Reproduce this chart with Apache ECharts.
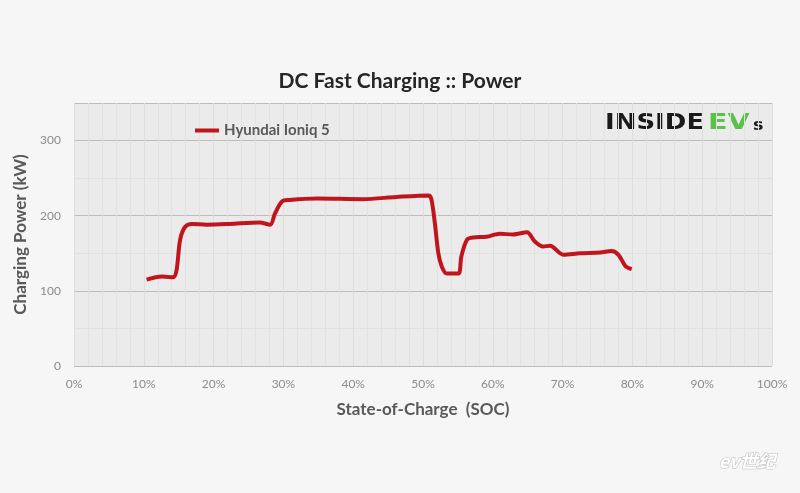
<!DOCTYPE html>
<html>
<head>
<meta charset="utf-8">
<script src="https://cdn.jsdelivr.net/npm/echarts@6/dist/echarts.min.js"></script>
<style>
html,body{margin:0;padding:0;background:#f6f6f6;}
#c{width:800px;height:493px;}
</style>
</head>
<body>
<div id="c"></div>
<script>
// Data
const seriesName = 'Hyundai Ioniq 5';
const soc =   [10.4, 12.6, 14.2, 14.7, 15.2, 15.9, 16.9, 19.0, 22.3, 26.6, 28.1, 28.8, 29.8, 30.9, 34.8, 41.4, 46.2, 50.8, 51.2, 51.7, 52.2, 52.7, 53.4, 54.1, 55.1, 55.5, 56.3, 57.2, 59.1, 61.0, 62.9, 64.9, 66.0, 67.2, 68.2, 70.1, 72.5, 75.4, 77.0, 78.0, 79.0, 79.9];
const power = [115,  119,  118,  128,  168,  185,  189,  188,  189,  191,  188,  203,  219,  221,  223,  222,  225,  227,  222,  190,  150,  132,  123,  123,  123,  146,  168,  171,  172,  176,  175,  178,  166,  159,  160,  148,  150,  151,  153,  148,  133,  129];
const yTicks = [0, 100, 200, 300];
const titleText = 'DC Fast Charging :: Power';
const xName = 'State-of-Charge  (SOC)';
const yName = 'Charging Power (kW)';

const data = soc.map((s, i) => [s, power[i]]);
const font = 'Lato, "Open Sans", sans-serif';
const logoFont = '"DejaVu Sans", sans-serif';

const chart = echarts.init(document.getElementById('c'));
chart.setOption({
  backgroundColor: '#f6f6f6',
  animation: false,
  title: {
    text: titleText,
    left: 'center',
    top: 66,
    textStyle: {fontFamily: font, fontSize: 21, fontWeight: 'bold', color: '#262626'}
  },
  legend: {
    left: 190,
    top: 118,
    icon: 'rect',
    itemWidth: 24,
    itemHeight: 4,
    itemGap: 6,
    textStyle: {fontFamily: font, fontSize: 15, fontWeight: 'bold', color: '#595959'},
    data: [seriesName]
  },
  grid: {left: 74, right: 28, top: 103, bottom: 127, show: true, backgroundColor: '#ebebeb', borderWidth: 0},
  xAxis: {
    type: 'value', min: 0, max: 100, interval: 10,
    name: xName, nameLocation: 'middle', nameGap: 35,
    nameTextStyle: {fontFamily: font, fontSize: 17, fontWeight: 'bold', color: '#595959'},
    axisLine: {show: false}, axisTick: {show: false},
    axisLabel: {formatter: '{value}%', color: '#8c8c8c', fontFamily: font, fontSize: 12, margin: 12},
    splitLine: {show: true, lineStyle: {color: '#dedede', width: 1}},
    minorTick: {show: false, splitNumber: 5},
    minorSplitLine: {show: true, lineStyle: {color: '#e2e2e2', width: 1}}
  },
  yAxis: {
    type: 'value', min: 0, max: 350, interval: 100,
    name: yName, nameLocation: 'middle', nameGap: 44,
    nameTextStyle: {fontFamily: font, fontSize: 17, fontWeight: 'bold', color: '#595959'},
    axisLine: {show: false}, axisTick: {show: false},
    axisLabel: {color: '#8c8c8c', fontFamily: font, fontSize: 12, margin: 13,
      formatter: v => yTicks.includes(v) ? String(v) : ''},
    splitLine: {show: true, lineStyle: {color: '#bdbdbd', width: 1}},
    minorTick: {show: false, splitNumber: 2},
    minorSplitLine: {show: true, lineStyle: {color: '#e0e0e0', width: 1}}
  },
  graphic: [
    {
      type: 'group', x: 605, y: 112,
      children: [
        {type: 'text', x: 0, y: 0, scaleX: 1.18, style: {text: 'INSIDE', font: 'bold 22px ' + logoFont, fill: '#1a1a1a'}},
        {type: 'text', x: 103, y: 0, scaleX: 1.3, style: {text: 'EV', font: 'bold 22px ' + logoFont, fill: '#5cc14a'}},
        {type: 'text', x: 148, y: 6, scaleX: 1.1, style: {text: 's', font: 'bold 16px ' + logoFont, fill: '#1a1a1a'}}
      ]
    },
    {
      type: 'text', right: 24, bottom: 22,
      style: {text: 'ev世纪', fontFamily: '"Noto Sans CJK SC", sans-serif', fontSize: 18, fontWeight: 'bold', fontStyle: 'italic', fill: '#ffffff', stroke: '#b8b8b8', lineWidth: 1}
    }
  ],
  series: [{
    name: seriesName,
    type: 'line',
    data: data,
    smooth: 0.3,
    showSymbol: false,
    symbol: 'none',
    color: '#c0151c',
    lineStyle: {width: 4, color: '#c0151c'}
  }]
});
</script>
</body>
</html>
